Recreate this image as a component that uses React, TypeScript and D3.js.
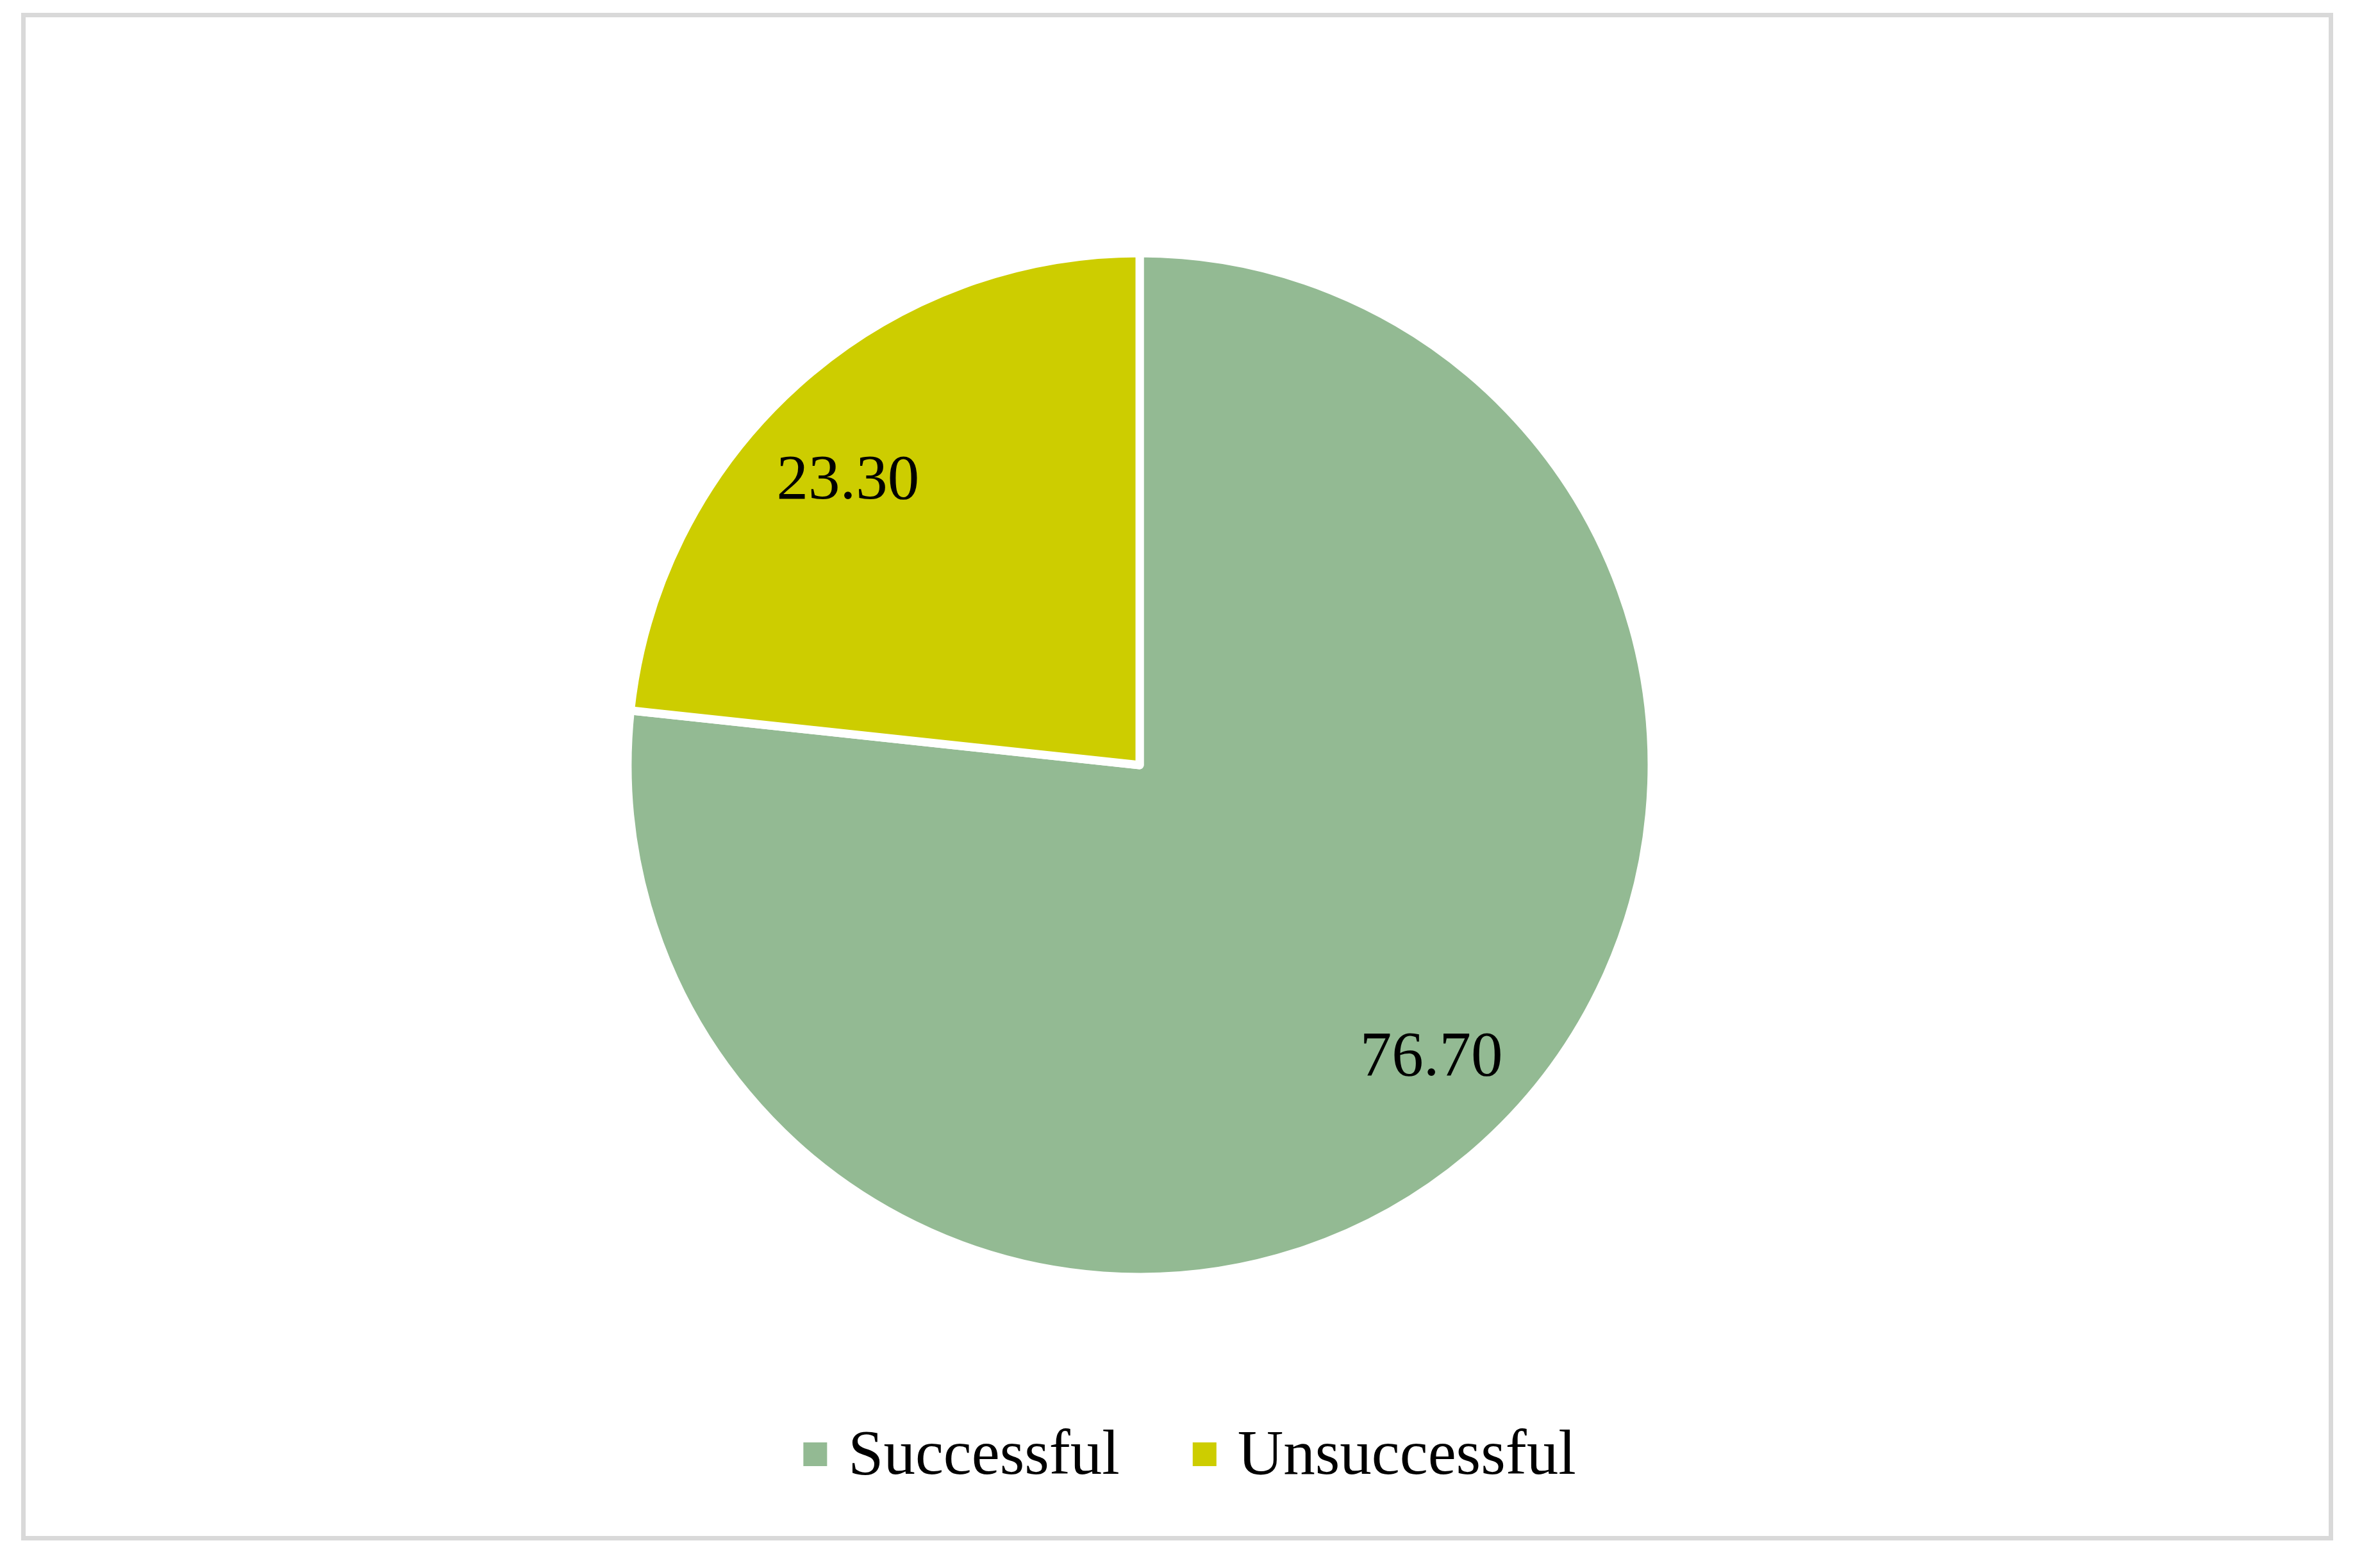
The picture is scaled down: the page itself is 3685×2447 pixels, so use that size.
import React, { useEffect, useRef } from "react";
import * as d3 from "d3";

const categories = ["Successful", "Unsuccessful"];
const values = [76.7, 23.3];
const labels = ["76.70", "23.30"];
const colors = ["#93BA93", "#CDCD00"];

const W = 3685;
const H = 2447;

export default function App() {
  const ref = useRef<SVGSVGElement | null>(null);

  useEffect(() => {
    const svg = d3.select(ref.current);
    svg.selectAll("*").remove();
    const font = "'Liberation Serif', 'Times New Roman', serif";

    svg
      .append("rect")
      .attr("x", 36.5)
      .attr("y", 23.5)
      .attr("width", 3600)
      .attr("height", 2377)
      .attr("fill", "#ffffff")
      .attr("stroke", "#D9D9D9")
      .attr("stroke-width", 7);

    const cx = 1778;
    const cy = 1194;
    const R = 799;

    const data = categories.map((c, i) => ({ name: c, value: values[i], label: labels[i], color: colors[i] }));
    const pie = d3
      .pie<any>()
      .sort(null)
      .value((d: any) => d.value)
      .startAngle(0)
      .endAngle(2 * Math.PI);
    const arcs = pie(data);
    const arc = d3.arc<any>().innerRadius(0).outerRadius(R);
    const labelR = 640;
    const labelShift = (-3.4 * Math.PI) / 180;

    const g = svg.append("g").attr("transform", `translate(${cx},${cy})`);
    g.selectAll("path.slice")
      .data(arcs)
      .enter()
      .append("path")
      .attr("class", "slice")
      .attr("d", arc as any)
      .attr("fill", (d: any) => d.data.color)
      .attr("stroke", "#ffffff")
      .attr("stroke-width", 13)
      .attr("stroke-linejoin", "round");

    const pos = (d: any) => {
      const a = (d.startAngle + d.endAngle) / 2 + labelShift;
      return [labelR * Math.sin(a), -labelR * Math.cos(a)];
    };

    g.selectAll("text.lbl")
      .data(arcs)
      .enter()
      .append("text")
      .attr("class", "lbl")
      .attr("x", (d: any) => pos(d)[0])
      .attr("y", (d: any) => pos(d)[1] + 34)
      .attr("text-anchor", "middle")
      .attr("font-family", font)
      .attr("font-size", 99)
      .attr("fill", "#000000")
      .text((d: any) => d.data.label);

    // legend
    const sq = 37;
    const gapText = 33;
    const spacing = 114;
    const legend = svg.append("g");
    const items = legend
      .selectAll("g.item")
      .data(data)
      .enter()
      .append("g")
      .attr("class", "item");
    items
      .append("rect")
      .attr("width", sq)
      .attr("height", sq)
      .attr("y", 2251)
      .attr("fill", (d: any) => d.color);
    const texts = items
      .append("text")
      .attr("y", 2300)
      .attr("font-family", font)
      .attr("font-size", 99)
      .attr("fill", "#000000")
      .text((d: any) => d.name);
    const widths: number[] = [];
    texts.each(function () {
      widths.push((this as SVGTextElement).getComputedTextLength());
    });
    const total = widths.reduce((a, w) => a + sq + gapText + w, 0) + spacing * (widths.length - 1);
    let x = 1856 - total / 2;
    items.each(function (_d: any, i: number) {
      const it = d3.select(this);
      it.select("rect").attr("x", x);
      it.select("text").attr("x", x + sq + gapText);
      x += sq + gapText + widths[i] + spacing;
    });
  }, []);

  return (
    <svg
      ref={ref}
      width={W}
      height={H}
      style={{ position: "absolute", left: 0, top: 0, background: "#ffffff" }}
    />
  );
}
